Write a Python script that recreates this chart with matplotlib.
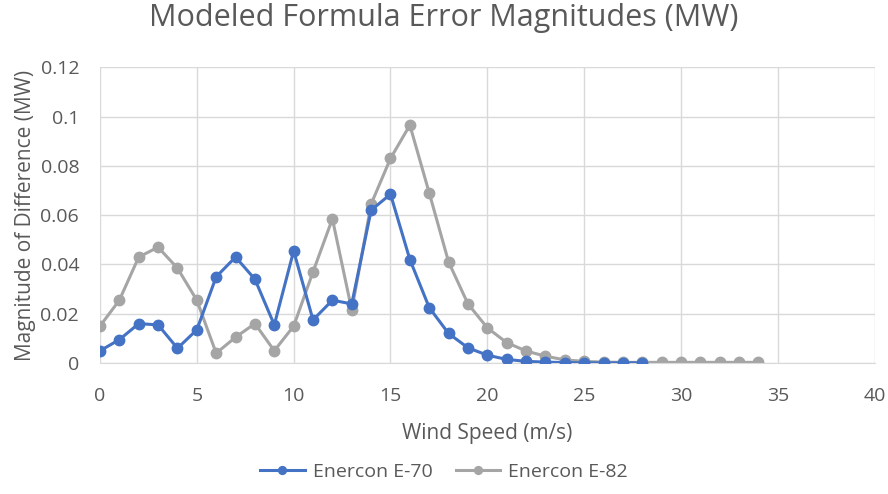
import numpy as np
import matplotlib.pyplot as plt

plt.rcParams['font.family'] = ['Open Sans', 'DejaVu Sans']

# wind speed (m/s) and error magnitudes (MW)
speed_e70 = list(range(0, 29))
err_e70 = [0.005, 0.0095, 0.016, 0.0155, 0.006, 0.0135, 0.035, 0.043, 0.034, 0.0155,
           0.0455, 0.0175, 0.0255, 0.024, 0.062, 0.0685, 0.042, 0.0225, 0.012, 0.0062,
           0.0032, 0.0015, 0.0007, 0.0004, 0.0002, 0.0001, 0.0001, 0.0001, 0.0001]

speed_e82 = list(range(0, 35))
err_e82 = [0.015, 0.0255, 0.043, 0.047, 0.0385, 0.0255, 0.004, 0.0105, 0.016, 0.005,
           0.015, 0.037, 0.0585, 0.0215, 0.0645, 0.083, 0.0965, 0.069, 0.041, 0.024,
           0.0143, 0.0083, 0.0049, 0.0028, 0.0013, 0.0007, 0.0004, 0.0003, 0.0003, 0.0003,
           0.0003, 0.0003, 0.0003, 0.0003, 0.0003]

txt = '#595959'
grid = '#d9d9d9'

fig = plt.figure(figsize=(8.88, 4.94), dpi=100)
ax = fig.add_axes([0.1126, 0.265, 0.8724, 0.599])

ax.plot(speed_e70, err_e70, color='#4472C4', lw=2.2, marker='o', ms=7.5,
        label='Enercon E-70', zorder=3)
ax.plot(speed_e82, err_e82, color='#A5A5A5', lw=2.2, marker='o', ms=7.5,
        label='Enercon E-82', zorder=2)

ax.set_xlim(0, 40)
ax.set_ylim(0, 0.12)
ax.set_xticks(np.arange(0, 41, 5))
ax.set_yticks(np.arange(0, 0.121, 0.02))
ax.set_yticklabels(['0', '0.02', '0.04', '0.06', '0.08', '0.1', '0.12'])
ax.grid(True, color=grid, lw=1)
ax.set_axisbelow(True)
for s in ['top', 'right', 'left']:
    ax.spines[s].set_visible(False)
ax.spines['bottom'].set_color(grid)
ax.tick_params(length=0, labelsize=14, colors=txt)
ax.tick_params(axis='y', pad=15)
ax.tick_params(axis='x', pad=17)

ax.set_xlabel('Wind Speed (m/s)', fontsize=15, color=txt, labelpad=13)
ax.set_ylabel('Magnitude of Difference (MW)', fontsize=15, color=txt, labelpad=3)
fig.suptitle('Modeled Formula Error Magnitudes (MW)', fontsize=22, color=txt, y=0.993)

fig.legend(loc='center', bbox_to_anchor=(0.5, 0.045), ncol=2, frameon=False,
           fontsize=14, labelcolor=txt, handlelength=2.3, handletextpad=0.4,
           columnspacing=1.2, markerscale=0.75)

fig.savefig('out.png', dpi=100)
